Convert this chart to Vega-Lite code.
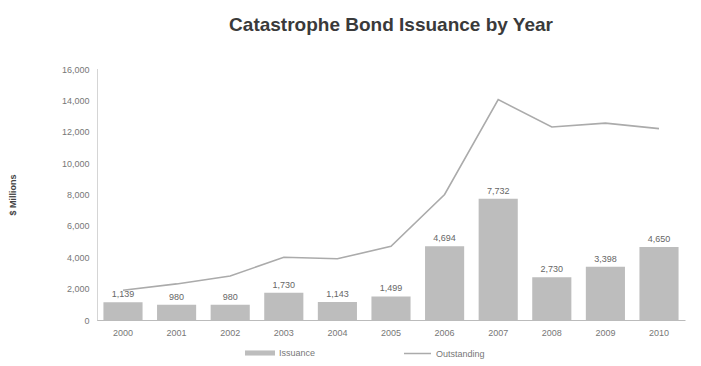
{
  "$schema": "https://vega.github.io/schema/vega-lite/v6.json",
  "autosize": "none",
  "width": 588,
  "height": 251,
  "padding": {"left": 97, "top": 69, "right": 16, "bottom": 46},
  "background": "white",
  "title": {
    "text": "Catastrophe Bond Issuance by Year",
    "font": "Liberation Sans",
    "fontSize": 19,
    "fontWeight": "bold",
    "color": "#3a3a3a",
    "anchor": "middle",
    "offset": 30
  },
  "config": {
    "view": {"stroke": null},
    "font": "Liberation Sans",
    "axis": {"grid": false, "labelColor": "#777", "labelFontSize": 9, "domainColor": "#aaa", "tickColor": "#aaa"},
    "axisY": {
      "title": "$ Millions", "titleFontSize": 9, "titleFontWeight": "bold", "titleColor": "#444",
      "titlePadding": 44, "labelOverlap": false, "ticks": false, "labelPadding": 8,
      "domainColor": "#aaa", "domainDash": [1, 1]
    }
  },
  "data": {
    "values": [
      {"year": "2000", "issuance": 1139, "outstanding": 1900, "label": "1,139"},
      {"year": "2001", "issuance": 980, "outstanding": 2300, "label": "980"},
      {"year": "2002", "issuance": 980, "outstanding": 2800, "label": "980"},
      {"year": "2003", "issuance": 1730, "outstanding": 4000, "label": "1,730"},
      {"year": "2004", "issuance": 1143, "outstanding": 3900, "label": "1,143"},
      {"year": "2005", "issuance": 1499, "outstanding": 4700, "label": "1,499"},
      {"year": "2006", "issuance": 4694, "outstanding": 8000, "label": "4,694"},
      {"year": "2007", "issuance": 7732, "outstanding": 14050, "label": "7,732"},
      {"year": "2008", "issuance": 2730, "outstanding": 12300, "label": "2,730"},
      {"year": "2009", "issuance": 3398, "outstanding": 12550, "label": "3,398"},
      {"year": "2010", "issuance": 4650, "outstanding": 12200, "label": "4,650"}
    ]
  },
  "encoding": {
    "x": {
      "field": "year", "type": "ordinal",
      "scale": {"paddingInner": 0.27, "paddingOuter": 0.12},
      "axis": {"title": null, "labelAngle": 0, "ticks": false, "labelPadding": 8, "domainColor": "#bbb"}
    }
  },
  "layer": [
    {
      "mark": {"type": "bar", "opacity": 1},
      "encoding": {
        "y": {
          "field": "issuance", "type": "quantitative",
          "scale": {"domain": [0, 16000]},
          "axis": {"title": "$ Millions", "values": [0, 2000, 4000, 6000, 8000, 10000, 12000, 14000, 16000], "format": ",.0f"}
        },
        "fill": {
          "datum": "Issuance", "type": "nominal",
          "scale": {"range": ["#bdbdbd"]},
          "legend": {
            "title": null, "orient": "none", "legendX": 148, "legendY": 269,
            "symbolType": "M-1,-0.17H1V0.17H-1Z", "symbolSize": 900,
            "labelColor": "#777", "labelFontSize": 9, "symbolStrokeWidth": 0
          }
        }
      }
    },
    {
      "mark": {"type": "text", "dy": -8, "fontSize": 9, "color": "#666"},
      "encoding": {
        "y": {
          "field": "issuance", "type": "quantitative",
          "axis": {"title": "$ Millions", "values": [0, 2000, 4000, 6000, 8000, 10000, 12000, 14000, 16000], "format": ",.0f"}
        },
        "text": {"field": "label"}
      }
    },
    {
      "mark": {"type": "line", "strokeWidth": 1.6},
      "encoding": {
        "y": {
          "field": "outstanding", "type": "quantitative",
          "axis": {"title": "$ Millions", "values": [0, 2000, 4000, 6000, 8000, 10000, 12000, 14000, 16000], "format": ",.0f"}
        },
        "stroke": {
          "datum": "Outstanding", "type": "nominal",
          "scale": {"range": ["#ababab"]},
          "legend": {
            "title": null, "orient": "none", "legendX": 306, "legendY": 270,
            "symbolType": "stroke", "symbolSize": 729,
            "symbolStrokeWidth": 1.5, "labelColor": "#777", "labelFontSize": 9
          }
        }
      }
    }
  ]
}
